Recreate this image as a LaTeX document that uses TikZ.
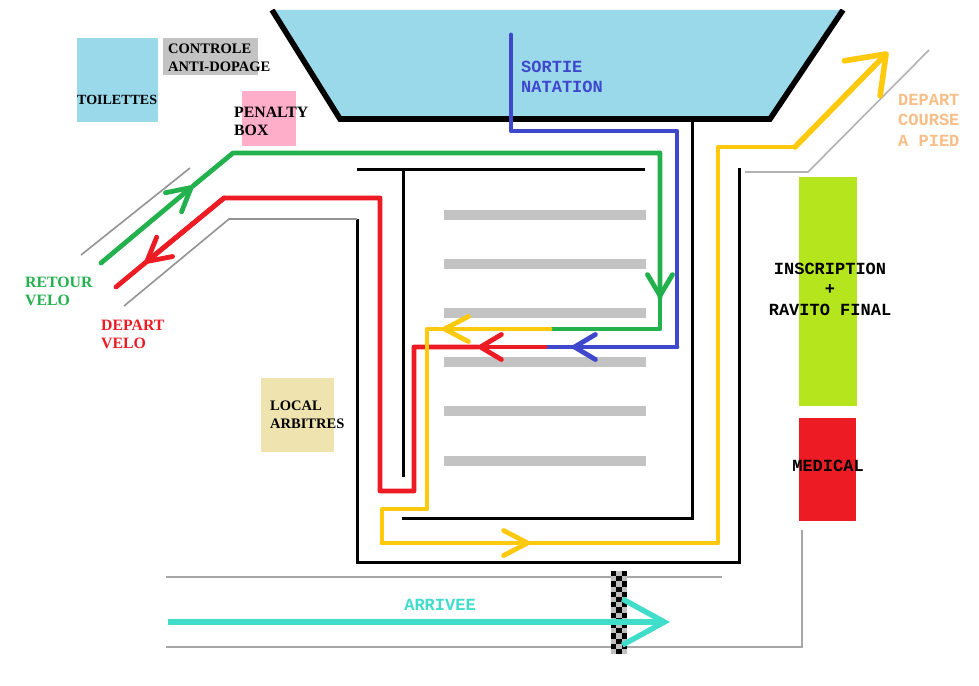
\documentclass[tikz,border=0pt]{standalone}
\usepackage{fontspec}
\setmainfont{Liberation Serif}
\setmonofont{Liberation Mono}
\usepackage{tikz}
\usetikzlibrary{arrows.meta}

\definecolor{poolblue}{HTML}{99D9EA}
\definecolor{pinkbox}{HTML}{FFAEC9}
\definecolor{sandbox}{HTML}{EFE4B0}
\definecolor{limebox}{HTML}{B5E61D}
\definecolor{redroute}{HTML}{ED1C24}
\definecolor{greenroute}{HTML}{22B14C}
\definecolor{blueroute}{HTML}{3F48CC}
\definecolor{yellowroute}{HTML}{FFC90E}
\definecolor{cyanroute}{HTML}{40DDCB}
\definecolor{orangelabel}{HTML}{F8BE88}
\definecolor{barreau}{HTML}{C3C3C3}

\begin{document}
\begin{tikzpicture}[
	x=1pt,y=-1pt,
	zone/.style={rectangle,draw=none,inner sep=0pt},
	serifLabel/.style={anchor=west,align=left,inner sep=0pt,font=\fontsize{14.5}{18}\selectfont\bfseries},
	bigLabel/.style={serifLabel,font=\fontsize{15.8}{18}\selectfont\bfseries},
	monoLabel/.style={inner sep=0pt,font=\fontsize{17}{20.5}\selectfont\ttfamily\bfseries},
	wall/.style={line width=3pt,draw=black},
	rail/.style={line width=1.6pt,draw=gray!85},
	route/.style={line width=4.8pt,line join=round,line cap=round},
	chevron/.style={-{Straight Barb[length=#1,width=25pt,round]}},
	chevron/.default=21pt
	]
	\useasboundingbox[fill=white] (0,0) rectangle (979,685);

	% bassin
	\coordinate (poolTL) at (272,10);
	\coordinate (poolBL) at (340,119);
	\coordinate (poolBR) at (770,119);
	\coordinate (poolTR) at (843,10);
	\fill[poolblue] (poolTL) -- (poolBL) -- (poolBR) -- (poolTR) -- cycle;
	\begin{scope}
		\clip (0,10) rectangle (979,130);
		\draw[line width=5.6pt,miter limit=4] (poolTL) -- (poolBL) -- (poolBR) -- (poolTR);
	\end{scope}

	% locaux
	\node[zone,fill=poolblue,minimum width=81pt,minimum height=84pt] (toilettes) at (117.5,80) {};
	\node[zone,fill=barreau,minimum width=95pt,minimum height=37pt] (controle) at (210.5,56.5) {};
	\node[zone,fill=pinkbox,minimum width=54pt,minimum height=55pt] (penalty) at (269,118.5) {};
	\node[zone,fill=sandbox,minimum width=73pt,minimum height=74pt] (arbitres) at (297.5,415) {};
	\node[zone,fill=limebox,minimum width=58pt,minimum height=229pt] (ravito) at (828,291.5) {};
	\node[zone,fill=redroute,minimum width=57pt,minimum height=103pt] (medical) at (827.5,469.5) {};

	\node[serifLabel,font=\fontsize{14}{18}\selectfont\bfseries] (toilettesText) at (77,100) {TOILETTES};
	\node[serifLabel] (controleText) at (168,58) {CONTROLE\\ANTI-DOPAGE};
	\node[bigLabel] (penaltyText) at (234,121) {PENALTY\\BOX};
	\node[serifLabel] (arbitresText) at (270,415) {LOCAL\\ARBITRES};
	\node[bigLabel,text=greenroute] (retourText) at (25,291) {RETOUR\\VELO};
	\node[bigLabel,text=redroute] (departText) at (101,334) {DEPART\\VELO};
	\node[monoLabel,align=center] (ravitoText) at (830,289) {INSCRIPTION\\+\\RAVITO FINAL};
	\node[monoLabel] (medicalText) at (828,466) {MEDICAL};
	\node[monoLabel,align=left,anchor=west,text=blueroute] (sortieText) at (521,77) {SORTIE\\NATATION};
	\node[monoLabel,align=left,anchor=west,text=orangelabel] (coursText) at (898,120) {DEPART\\COURSE\\A PIED};
	\node[monoLabel,text=cyanroute] (arriveeText) at (440,605) {ARRIVEE};

	% barrieres du parc
	\foreach \barY in {215,264,313,362,411,461}
		\fill[barreau] (444,\barY-5) rectangle (646,\barY+5);

	\coordinate (wallA) at (357,219);
	\coordinate (wallB) at (357,562);
	\coordinate (wallC) at (739,562);
	\coordinate (wallD) at (739,168);
	\coordinate (wallE) at (692,119);
	\coordinate (wallF) at (692,518);
	\coordinate (wallG) at (402,518);
	\coordinate (wallH) at (357,169);
	\coordinate (wallI) at (645,169);
	\coordinate (wallJ) at (403,169);
	\coordinate (wallK) at (403,477);
	\draw[wall] (wallA) -- (wallB) -- (wallC) -- (wallD);
	\draw[wall] (wallE) -- (wallF) -- (wallG);
	\draw[wall] (wallH) -- (wallI);
	\draw[wall] (wallJ) -- (wallK);

	% lignes grises
	\coordinate (railA) at (81,255);
	\coordinate (railB) at (190,168);
	\coordinate (railC) at (124,306);
	\coordinate (railD) at (229,219);
	\coordinate (railE) at (745,172);
	\coordinate (railF) at (808,172);
	\coordinate (railG) at (929,50);
	\coordinate (railH) at (166,577);
	\coordinate (railI) at (722,577);
	\coordinate (railJ) at (166,647);
	\coordinate (railK) at (802,647);
	\coordinate (railL) at (802,530);
	\draw[rail] (railA) -- (railB);
	\draw[rail] (railC) -- (railD) -- (wallA);
	\draw[rail,gray!60] (railE) -- (railF) -- (railG);
	\draw[rail,gray!70] (railH) -- (railI);
	\draw[rail,gray!70] (railJ) -- (railK) -- (railL);

	% parcours vert
	\coordinate (velo) at (101,263);
	\coordinate (veloTip) at (193,186);
	\coordinate (greenA) at (233,153);
	\coordinate (greenB) at (660,153);
	\coordinate (greenTip) at (660,298);
	\coordinate (greenC) at (660,329);
	\coordinate (greenD) at (550,329);
	\draw[route,greenroute,chevron=23pt] (velo) -- (veloTip);
	\draw[route,greenroute] (veloTip) -- (greenA) -- (greenB) -- (greenTip);
	\draw[route,greenroute,chevron] (greenB) -- (greenTip);
	\draw[route,greenroute] (greenTip) -- (greenC) -- (greenD);

	% parcours bleu puis rouge
	\coordinate (blueA) at (511,35);
	\coordinate (blueB) at (511,131);
	\coordinate (blueC) at (677,131);
	\coordinate (blueD) at (677,347);
	\coordinate (blueTip) at (572,347);
	\coordinate (blueE) at (545,347);
	\coordinate (redTip) at (478,347);
	\coordinate (redA) at (414,347);
	\coordinate (redB) at (414,491);
	\coordinate (redC) at (380,491);
	\coordinate (redD) at (380,198);
	\coordinate (redE) at (224,198);
	\coordinate (redVeloTip) at (145,263);
	\coordinate (redF) at (116,287);
	\draw[route,blueroute] (blueA) -- (blueB) -- (blueC) -- (blueD) -- (blueTip);
	\draw[route,blueroute,chevron] (blueD) -- (blueTip);
	\draw[route,blueroute] (blueTip) -- (blueE);
	\draw[route,redroute,chevron] (blueE) -- (redTip);
	\draw[route,redroute] (redTip) -- (redA) -- (redB) -- (redC) -- (redD) -- (redE) -- (redVeloTip);
	\draw[route,redroute,chevron=23pt] (redE) -- (redVeloTip);
	\draw[route,redroute] (redVeloTip) -- (redF);

	% parcours jaune
	\coordinate (yellowTipA) at (442,329);
	\coordinate (yellowA) at (427,329);
	\coordinate (yellowB) at (427,509);
	\coordinate (yellowC) at (382,509);
	\coordinate (yellowD) at (382,543);
	\coordinate (yellowTipB) at (530,543);
	\coordinate (yellowE) at (718,543);
	\coordinate (yellowF) at (718,147);
	\coordinate (yellowG) at (795,147);
	\coordinate (yellowTipC) at (888,52);
	\draw[route,yellowroute,chevron=24pt] (greenD) -- (yellowTipA);
	\draw[route,yellowroute] (yellowTipA) -- (yellowA) -- (yellowB) -- (yellowC) -- (yellowD) -- (yellowTipB);
	\draw[route,yellowroute,chevron=24pt] (yellowD) -- (yellowTipB);
	\draw[route,yellowroute] (yellowTipB) -- (yellowE) -- (yellowF) -- (yellowG);
	\draw[route,yellowroute,line width=5.6pt,-{Straight Barb[length=34pt,width=50pt,round]}] (yellowG) -- (yellowTipC);

	% arrivee
	\fill[black!25] (611,571) rectangle (627,654);
	\foreach \cellY in {571,581.4,...,650}
		\foreach \cellX in {611,621.6}
			\fill[black] (\cellX,\cellY) rectangle +(5.4,5.2);
	\foreach \cellY in {576.2,586.6,...,650}
		\fill[black] (616.3,\cellY) rectangle +(5.4,5.2);
	\coordinate (arriveeA) at (168,622);
	\coordinate (arriveeB) at (670,622);
	\draw[line width=5.4pt,cyanroute,-{Straight Barb[length=42pt,width=46pt]}] (arriveeA) -- (arriveeB);
\end{tikzpicture}
\end{document}
